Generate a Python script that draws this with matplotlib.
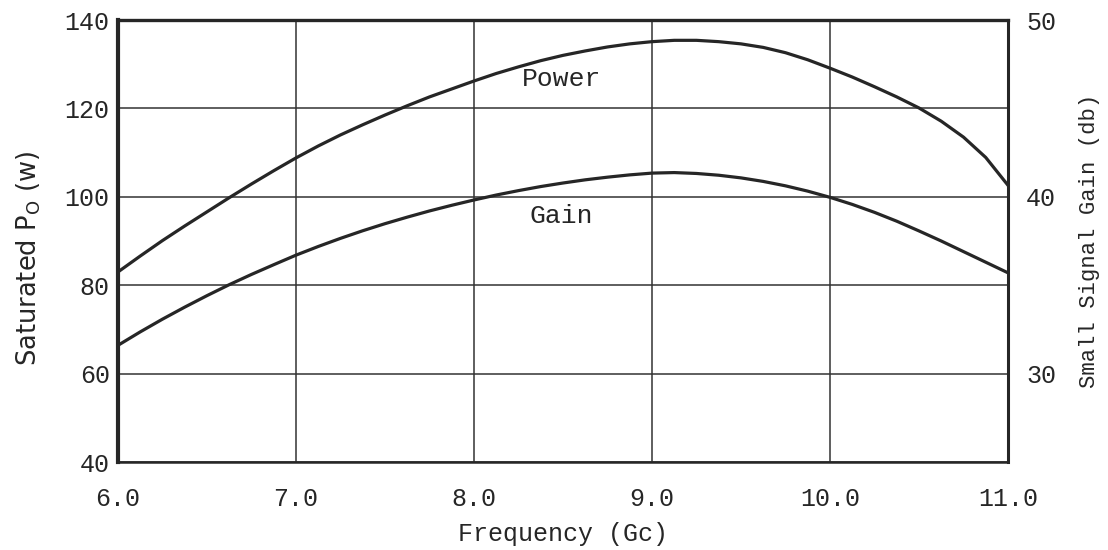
import matplotlib
matplotlib.use("Agg")
import matplotlib.pyplot as plt

freq = [6.0, 6.125, 6.25, 6.375, 6.5, 6.625, 6.75, 6.875, 7.0, 7.125, 7.25,
        7.375, 7.5, 7.625, 7.75, 7.875, 8.0, 8.125, 8.25, 8.375, 8.5, 8.625,
        8.75, 8.875, 9.0, 9.125, 9.25, 9.375, 9.5, 9.625, 9.75, 9.875, 10.0,
        10.125, 10.25, 10.375, 10.5, 10.625, 10.75, 10.875, 11.0]
power_w = [83.0, 86.6, 90.1, 93.4, 96.6, 99.8, 102.9, 105.9, 108.8, 111.5, 114.0,
           116.3, 118.5, 120.6, 122.6, 124.4, 126.2, 127.9, 129.4, 130.8, 132.0, 133.0,
           133.9, 134.6, 135.1, 135.4, 135.4, 135.1, 134.6, 133.8, 132.6, 131.0, 129.1,
           127.1, 124.9, 122.6, 120.1, 117.1, 113.5, 108.9, 102.6]
gain_db = [31.60, 32.36, 33.08, 33.76, 34.41, 35.03, 35.61, 36.16, 36.70, 37.19, 37.65,
           38.08, 38.48, 38.85, 39.20, 39.52, 39.82, 40.10, 40.35, 40.58, 40.78, 40.96,
           41.11, 41.24, 41.34, 41.37, 41.32, 41.22, 41.07, 40.87, 40.62, 40.32, 39.97,
           39.57, 39.12, 38.62, 38.07, 37.50, 36.90, 36.30, 35.70]

x_ticks = [6.0, 7.0, 8.0, 9.0, 10.0, 11.0]
x_labels = ["6.0", "7.0", "8.0", "9.0", "10.0", "11.0"]
left_ticks = [40, 60, 80, 100, 120, 140]
left_labels = ["40", "60", "80", "100", "120", "140"]
right_ticks = [30, 40, 50]
right_labels = ["30", "40", "50"]

mono = "Liberation Mono"
ink = "#262626"

fig = plt.figure(figsize=(11.08, 5.5), dpi=100)
ax = fig.add_axes([118 / 1108, 1 - 462 / 550, 890 / 1108, 442 / 550])
ax2 = ax.twinx()

ax.set_xlim(6.0, 11.0)
ax.set_ylim(40, 140)
ax2.set_ylim(25, 50)

ax.set_xticks(x_ticks)
ax.set_xticklabels(x_labels, fontfamily=mono, fontsize=18, color=ink)
ax.set_yticks(left_ticks)
ax.set_yticklabels(left_labels, fontfamily=mono, fontsize=18, color=ink)
ax2.set_yticks(right_ticks)
ax2.set_yticklabels(right_labels, fontfamily=mono, fontsize=18, color=ink)

ax.tick_params(axis="x", length=0, pad=18)
ax.tick_params(axis="y", length=0, pad=6)
ax2.tick_params(axis="y", length=0, pad=13)

ax.grid(True, color="#333333", linewidth=1.1)
ax.set_axisbelow(True)

for sp in ax.spines.values():
    sp.set_color(ink)
ax.spines["left"].set_linewidth(3.0)
ax.spines["top"].set_linewidth(2.4)
ax.spines["bottom"].set_linewidth(1.8)
ax.spines["right"].set_linewidth(2.2)
for sp in ax2.spines.values():
    sp.set_visible(False)

ax.plot(freq, power_w, color=ink, linewidth=2.3)
ax2.plot(freq, gain_db, color=ink, linewidth=2.3)

ax.text(8.49, 126.7, "Power", fontfamily=mono, fontsize=19, color=ink, ha="center", va="center")
ax2.text(8.49, 38.9, "Gain", fontfamily=mono, fontsize=19, color=ink, ha="center", va="center")

ax.set_xlabel("Frequency (Gc)", fontfamily=mono, fontsize=18, color=ink, va="center")
ax.xaxis.set_label_coords(0.5, (462 - 534) / 442)
ax.set_ylabel(r"Saturated P$_\mathregular{O}$ (w)", fontfamily="DejaVu Sans", fontsize=18.5,
              color=ink, va="center")
ax.yaxis.set_label_coords((29 - 118) / 890, (462 - 258) / 442)
ax2.set_ylabel("Small Signal Gain (db)", fontfamily=mono, fontsize=16, color=ink, va="center")
ax2.yaxis.set_label_coords((1090 - 118) / 890, 0.5)

fig.savefig("out.png", dpi=100, facecolor="white")
